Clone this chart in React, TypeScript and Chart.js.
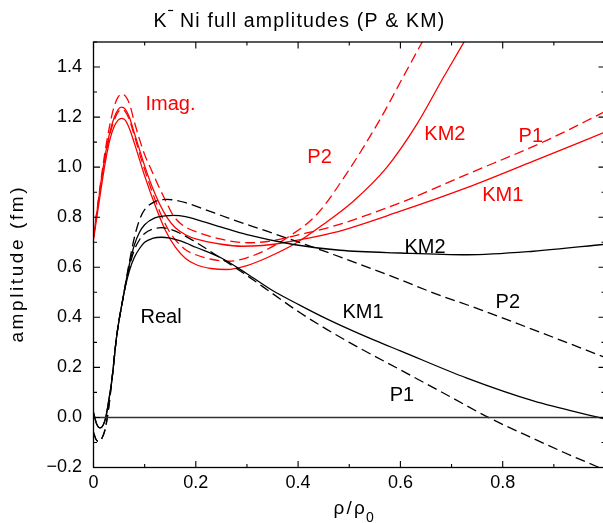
import React, { useEffect, useRef } from "react";
import { Chart, registerables } from "chart.js";

Chart.register(...registerables);

// ---------------- data ----------------
// Real parts (black)
const realKM1X = [0, 0.006, 0.013, 0.019, 0.024, 0.03, 0.036, 0.045, 0.058, 0.07, 0.08, 0.09, 0.1, 0.115, 0.133, 0.15, 0.17, 0.2, 0.25, 0.3, 0.35, 0.404, 0.45, 0.495, 0.55, 0.6, 0.73, 0.86, 0.984, 1.0];
const realKM1Y = [0.02, -0.025, -0.042, -0.03, 0.0, 0.07, 0.15, 0.32, 0.48, 0.585, 0.64, 0.675, 0.7, 0.715, 0.72, 0.716, 0.705, 0.68, 0.637, 0.574, 0.507, 0.448, 0.4, 0.357, 0.308, 0.266, 0.157, 0.066, 0.002, -0.006];

const realP1X = [0, 0.005, 0.01, 0.016, 0.0225, 0.027, 0.031, 0.036, 0.045, 0.058, 0.07, 0.08, 0.09, 0.1, 0.115, 0.133, 0.15, 0.17, 0.2, 0.25, 0.3, 0.35, 0.404, 0.456, 0.5, 0.6, 0.7, 0.772, 0.85, 0.92, 0.984, 1.0];
const realP1Y = [-0.06, -0.088, -0.096, -0.085, -0.05, 0.0, 0.06, 0.15, 0.32, 0.48, 0.6, 0.67, 0.71, 0.735, 0.752, 0.758, 0.752, 0.735, 0.7, 0.635, 0.567, 0.495, 0.418, 0.352, 0.3, 0.19, 0.08, 0.0, -0.075, -0.14, -0.196, -0.21];

const realKM2X = [0, 0.006, 0.013, 0.019, 0.024, 0.03, 0.036, 0.045, 0.058, 0.07, 0.08, 0.09, 0.1, 0.12, 0.14, 0.156, 0.18, 0.208, 0.25, 0.3, 0.391, 0.482, 0.6, 0.73, 0.86, 1.0];
const realKM2Y = [0.02, -0.025, -0.042, -0.03, 0.0, 0.07, 0.15, 0.32, 0.48, 0.61, 0.69, 0.74, 0.77, 0.797, 0.805, 0.807, 0.802, 0.786, 0.76, 0.73, 0.691, 0.668, 0.657, 0.65, 0.664, 0.692];

const realP2X = [0, 0.005, 0.01, 0.016, 0.0225, 0.027, 0.031, 0.036, 0.045, 0.058, 0.07, 0.08, 0.09, 0.1, 0.12, 0.143, 0.16, 0.18, 0.208, 0.27, 0.339, 0.469, 0.599, 0.664, 0.756, 0.88, 1.0];
const realP2Y = [-0.06, -0.088, -0.096, -0.085, -0.05, 0.0, 0.06, 0.15, 0.32, 0.48, 0.62, 0.72, 0.79, 0.83, 0.862, 0.871, 0.868, 0.858, 0.838, 0.792, 0.744, 0.651, 0.551, 0.498, 0.431, 0.335, 0.24];

// Imaginary parts (red)
const imagP1X = [0, 0.008, 0.016, 0.024, 0.032, 0.04, 0.048, 0.055, 0.062, 0.07, 0.08, 0.088, 0.1, 0.114, 0.127, 0.14, 0.155, 0.17, 0.185, 0.2, 0.25, 0.3, 0.34, 0.404, 0.469, 0.6, 0.73, 0.886, 1.0];
const imagP1Y = [0.72, 0.845, 0.97, 1.08, 1.17, 1.24, 1.28, 1.292, 1.285, 1.255, 1.18, 1.124, 1.05, 0.985, 0.925, 0.87, 0.81, 0.775, 0.755, 0.742, 0.712, 0.698, 0.703, 0.731, 0.764, 0.858, 0.971, 1.107, 1.222];

const imagKM1X = [0, 0.008, 0.016, 0.024, 0.032, 0.04, 0.048, 0.055, 0.062, 0.07, 0.08, 0.09, 0.1, 0.115, 0.13, 0.145, 0.16, 0.18, 0.2, 0.25, 0.29, 0.33, 0.371, 0.469, 0.6, 0.73, 0.86, 1.0];
const imagKM1Y = [0.72, 0.84, 0.96, 1.06, 1.14, 1.195, 1.23, 1.24, 1.232, 1.2, 1.135, 1.07, 1.005, 0.92, 0.85, 0.795, 0.758, 0.73, 0.713, 0.692, 0.684, 0.687, 0.698, 0.738, 0.824, 0.918, 1.024, 1.14];

const imagP2X = [0, 0.008, 0.016, 0.024, 0.032, 0.04, 0.048, 0.055, 0.062, 0.07, 0.08, 0.09, 0.1, 0.115, 0.13, 0.145, 0.16, 0.18, 0.2, 0.23, 0.265, 0.3, 0.34, 0.38, 0.436, 0.495, 0.56, 0.6, 0.64, 0.67];
const imagP2Y = [0.72, 0.84, 0.955, 1.05, 1.13, 1.185, 1.22, 1.23, 1.222, 1.19, 1.125, 1.055, 0.99, 0.9, 0.82, 0.755, 0.71, 0.67, 0.65, 0.632, 0.624, 0.638, 0.672, 0.72, 0.81, 0.975, 1.19, 1.34, 1.49, 1.6];

const imagKM2X = [0, 0.008, 0.016, 0.024, 0.032, 0.04, 0.048, 0.055, 0.062, 0.07, 0.08, 0.09, 0.1, 0.12, 0.14, 0.16, 0.18, 0.2, 0.23, 0.26, 0.3, 0.339, 0.397, 0.449, 0.508, 0.573, 0.632, 0.684, 0.73, 0.76];
const imagKM2Y = [0.71, 0.82, 0.93, 1.03, 1.11, 1.16, 1.188, 1.195, 1.188, 1.155, 1.095, 1.03, 0.965, 0.85, 0.75, 0.68, 0.635, 0.611, 0.595, 0.591, 0.607, 0.638, 0.698, 0.771, 0.864, 0.998, 1.171, 1.358, 1.52, 1.63];

const zeroX = [0, 1];
const zeroY = [0, 0];

// Axis ticks
const xTickVals = [0, 0.2, 0.4, 0.6, 0.8];
const yTickVals = [-0.2, 0, 0.2, 0.4, 0.6, 0.8, 1.0, 1.2, 1.4];

// Curve annotations (text, data position)
const labelTexts = ["Imag.", "P2", "KM2", "P1", "KM1", "KM2", "P2", "KM1", "Real", "P1"];
const labelXs = [0.1505, 0.442, 0.687, 0.855, 0.8, 0.648, 0.81, 0.527, 0.132, 0.603];
const labelYs = [1.255, 1.045, 1.139, 1.131, 0.895, 0.687, 0.465, 0.427, 0.405, 0.096];
const labelIsRed = [true, true, true, true, true, false, false, false, false, false];

// ---------------- layout / style ----------------
const W = 612;
const H = 523;
const FONT = '"Liberation Sans", Arial, Helvetica, sans-serif';
const RED = "#ff0000";
const BLACK = "#000000";

const pts = (xs: number[], ys: number[]) => xs.map((x, i) => ({ x, y: ys[i] }));

function drawSpaced(ctx: CanvasRenderingContext2D, text: string, x: number, y: number, spacing: number) {
  let cx = x;
  for (const ch of text) {
    ctx.fillText(ch, cx, y);
    cx += ctx.measureText(ch).width + spacing;
  }
  return cx - x;
}
function spacedWidth(ctx: CanvasRenderingContext2D, text: string, spacing: number) {
  let w = 0;
  for (const ch of text) w += ctx.measureText(ch).width + spacing;
  return w;
}

const decorPlugin = {
  id: "decor",
  afterDraw(chart: any) {
    const { ctx, chartArea } = chart;
    const { left, right, top, bottom } = chartArea;
    const xs = chart.scales.x;
    const ys = chart.scales.y;
    ctx.save();
    // frame
    ctx.strokeStyle = BLACK;
    ctx.lineWidth = 1.3;
    ctx.strokeRect(left, top, right - left, bottom - top);
    // inward ticks
    ctx.lineWidth = 1.1;
    ctx.beginPath();
    for (let i = 0; i <= 10; i++) {
      const px = xs.getPixelForValue(i / 10);
      const len = i % 2 === 0 ? 6.5 : 3.5;
      ctx.moveTo(px, bottom);
      ctx.lineTo(px, bottom - len);
      ctx.moveTo(px, top);
      ctx.lineTo(px, top + len);
    }
    for (let i = -2; i <= 15; i++) {
      const py = ys.getPixelForValue(i / 10);
      const len = Math.abs(i) % 2 === 0 ? 6.5 : 3.5;
      ctx.moveTo(left, py);
      ctx.lineTo(left + len, py);
      ctx.moveTo(right, py);
      ctx.lineTo(right - len, py);
    }
    ctx.stroke();

    // curve annotations
    const ls = 20;
    ctx.font = `${ls}px ${FONT}`;
    ctx.textAlign = "center";
    ctx.textBaseline = "alphabetic";
    labelTexts.forEach((t, i) => {
      ctx.fillStyle = labelIsRed[i] ? RED : BLACK;
      ctx.fillText(t, xs.getPixelForValue(labelXs[i]), ys.getPixelForValue(labelYs[i]) + 0.358 * ls);
    });

    // title: K^- Ni full amplitudes (P & KM)
    ctx.fillStyle = BLACK;
    ctx.textAlign = "left";
    const ts = 19.5;
    const sp = 1.2;
    ctx.font = `${ts}px ${FONT}`;
    const rest = " Ni full amplitudes (P & KM)";
    const wK = spacedWidth(ctx, "K", sp);
    const wRest = spacedWidth(ctx, rest, sp);
    const wSup = 7;
    const total = wK + wSup + wRest;
    const tx = 300 - total / 2;
    const tBase = 27.3;
    drawSpaced(ctx, "K", tx, tBase, sp);
    ctx.lineWidth = 1.2;
    ctx.beginPath();
    ctx.moveTo(tx + wK + 0.5, 10.5);
    ctx.lineTo(tx + wK + 5.5, 10.5);
    ctx.stroke();
    drawSpaced(ctx, rest, tx + wK + wSup - sp, tBase, sp);

    // y axis title
    ctx.save();
    ctx.translate(22.7, 265);
    ctx.rotate(-Math.PI / 2);
    ctx.font = `19px ${FONT}`;
    const ysp = 2.6;
    const yt = "amplitude (fm)";
    const yw = spacedWidth(ctx, yt, ysp) - ysp;
    drawSpaced(ctx, yt, -yw / 2, 0, ysp);
    ctx.restore();

    // x axis title: rho/rho_0
    ctx.font = `19px ${FONT}`;
    const xw = drawSpaced(ctx, "ρ/ρ", 333.5, 513.5, 2.2);
    ctx.font = `14px ${FONT}`;
    ctx.fillText("0", 333.5 + xw - 1, 521.5);

    ctx.restore();
  },
};

export default function App() {
  const ref = useRef<HTMLCanvasElement>(null);

  useEffect(() => {
    const canvas = ref.current;
    if (!canvas) return;

    const mk = (xs: number[], ys: number[], color: string, dashed: boolean, width = 1.3) => ({
      data: pts(xs, ys),
      borderColor: color,
      backgroundColor: color,
      borderWidth: width,
      borderDash: dashed ? [10, 5] : [],
      pointRadius: 0,
      fill: false,
      cubicInterpolationMode: "monotone" as const,
    });

    const chart = new Chart(canvas, {
      type: "line",
      data: {
        datasets: [
          mk(zeroX, zeroY, "#333333", false, 1.5),
          mk(realKM1X, realKM1Y, BLACK, false),
          mk(realP1X, realP1Y, BLACK, true),
          mk(realKM2X, realKM2Y, BLACK, false),
          mk(realP2X, realP2Y, BLACK, true),
          mk(imagKM1X, imagKM1Y, RED, false),
          mk(imagP1X, imagP1Y, RED, true),
          mk(imagKM2X, imagKM2Y, RED, false),
          mk(imagP2X, imagP2Y, RED, true),
        ] as any,
      },
      options: {
        animation: false,
        responsive: false,
        devicePixelRatio: 1,
        layout: { padding: { left: 0, right: W - 605, top: 42, bottom: 0 } },
        plugins: {
          legend: { display: false },
          tooltip: { enabled: false },
          title: { display: false },
        },
        scales: {
          x: {
            type: "linear",
            min: 0,
            max: 1,
            grid: { display: false, drawTicks: false, tickLength: 0 },
            border: { display: false },
            afterBuildTicks: (s: any) => {
              s.ticks = xTickVals.map((v) => ({ value: v }));
            },
            afterFit: (s: any) => {
              s.height = H - 467.5;
            },
            ticks: {
              color: BLACK,
              font: { family: FONT, size: 18 },
              padding: 5,
              maxRotation: 0,
              autoSkip: false,
              callback: (v: any) => (Number(v) === 0 ? "0" : Number(v).toFixed(1)),
            },
          },
          y: {
            type: "linear",
            min: -0.2,
            max: 1.5,
            grid: { display: false, drawTicks: false, tickLength: 0 },
            border: { display: false },
            afterBuildTicks: (s: any) => {
              s.ticks = yTickVals.map((v) => ({ value: v }));
            },
            afterFit: (s: any) => {
              s.width = 93.5;
            },
            ticks: {
              color: BLACK,
              font: { family: FONT, size: 18 },
              padding: 11.5,
              autoSkip: false,
              callback: (v: any) => Number(v).toFixed(1).replace("-", "\u2212"),
            },
          },
        },
      } as any,
      plugins: [decorPlugin],
    });

    return () => chart.destroy();
  }, []);

  return (
    <div style={{ position: "fixed", left: 0, top: 0, width: W, height: H, background: "#ffffff" }}>
      <canvas ref={ref} width={W} height={H} style={{ display: "block", width: W, height: H }} />
    </div>
  );
}
